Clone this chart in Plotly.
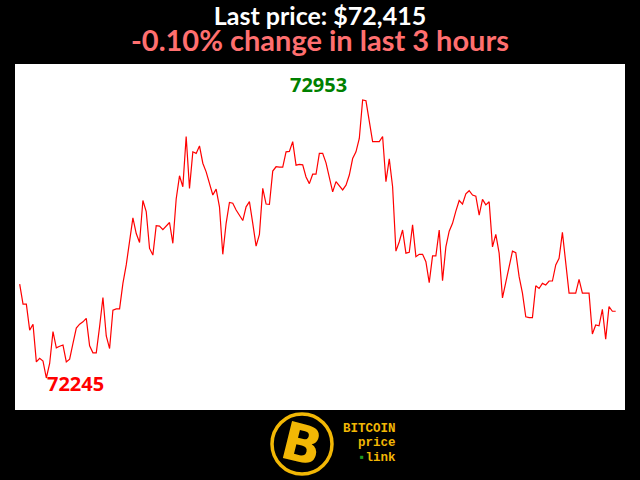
import plotly.graph_objects as go

# Bitcoin price, one point per minute over the last 3 hours
minutes = list(range(180))
prices = [
    72484, 72433, 72433, 72367, 72382, 72286, 72295, 72288, 72245, 72282,
    72363, 72322, 72326, 72329, 72286, 72293, 72333, 72372, 72382, 72388,
    72397, 72327, 72309, 72309, 72376, 72450, 72352, 72320, 72418, 72421,
    72421, 72486, 72533, 72588, 72653, 72613, 72590, 72697, 72669, 72575,
    72558, 72633, 72632, 72623, 72631, 72641, 72588, 72701, 72760, 72732,
    72860, 72728, 72821, 72817, 72836, 72792, 72770, 72741, 72711, 72726,
    72681, 72560, 72639, 72692, 72690, 72673, 72660, 72646, 72681, 72694,
    72639, 72581, 72611, 72728, 72688, 72687, 72772, 72783, 72782, 72782,
    72821, 72822, 72847, 72787, 72789, 72788, 72757, 72740, 72764, 72764,
    72817, 72817, 72793, 72759, 72719, 72745, 72734, 72724, 72736, 72762,
    72804, 72821, 72855, 72953, 72951, 72902, 72847, 72847, 72847, 72860,
    72745, 72803, 72732, 72568, 72592, 72622, 72563, 72565, 72635, 72554,
    72560, 72560, 72541, 72488, 72556, 72556, 72622, 72493, 72579, 72619,
    72639, 72670, 72697, 72688, 72714, 72722, 72711, 72708, 72660, 72700,
    72686, 72694, 72579, 72611, 72563, 72449, 72490, 72528, 72568, 72564,
    72503, 72461, 72401, 72399, 72399, 72480, 72473, 72486, 72482, 72492,
    72492, 72533, 72550, 72616, 72546, 72461, 72461, 72461, 72496, 72461,
    72461, 72461, 72357, 72380, 72378, 72420, 72344, 72427, 72415, 72415,
]

last_price = prices[-1]
change_pct = (prices[-1] - prices[0]) / prices[0] * 100
hi = max(prices)
lo = min(prices)
i_hi = prices.index(hi)
i_lo = prices.index(lo)

gold = "#f2b705"

fig = go.Figure()
fig.add_trace(go.Scatter(x=minutes, y=prices, mode="lines",
                         line=dict(color="#ff0000", width=1.2),
                         hoverinfo="skip"))

# high / low labels
fig.add_annotation(x=i_hi, y=hi, text="<b>%d</b>" % hi, showarrow=False,
                   xshift=-44, yshift=16, yanchor="middle",
                   font=dict(family="Open Sans", size=20, color="#008000"))
fig.add_annotation(x=i_lo, y=lo, text="<b>%d</b>" % lo, showarrow=False,
                   xanchor="left", yanchor="middle", xshift=-1, yshift=-5,
                   font=dict(family="Open Sans", size=20, color="#ff0000"))

# headline: two lines in one text, line pitch = 1.3 x base size
headline = ("<b><span style='font-size:25px'>Last price: $%s</span></b><br>"
            "<b><span style='font-size:29px;color:#ff6f6f'>%.2f%% change in last 3 hours</span></b>"
            % (format(last_price, ","), change_pct))
fig.add_annotation(xref="paper", yref="paper", x=0.5, y=1.1012, yanchor="middle",
                   text=headline, showarrow=False,
                   font=dict(family="Lato", size=20, color="white"))

# logo
fig.add_shape(type="circle", xref="paper", yref="paper",
              xsizemode="pixel", ysizemode="pixel", xanchor=0.4705, yanchor=-0.0983,
              x0=-30, x1=30, y0=-30, y1=30, line=dict(color=gold, width=3.5))
fig.add_annotation(xref="paper", yref="paper", x=0.4705, y=-0.0983,
                   xanchor="center", yanchor="middle",
                   text="<b>B</b>", showarrow=False, textangle=14,
                   font=dict(family="DejaVu Sans", size=52, color=gold))
for txt, yy in [("BITCOIN", -0.0535), ("price", -0.0954),
                ("<span style='color:#1f9a1f'>\u25aa</span>link", -0.1373)]:
    fig.add_annotation(xref="paper", yref="paper", x=0.6279, y=yy,
                       xanchor="right", yanchor="middle",
                       text="<b>%s</b>" % txt, showarrow=False,
                       font=dict(family="Liberation Mono", size=12.5, color=gold))

fig.update_xaxes(visible=False, range=[-1.41, 181.8])
fig.update_yaxes(visible=False, range=[72163.5, 73044.7])
fig.update_layout(width=640, height=480, showlegend=False,
                  paper_bgcolor="black", plot_bgcolor="white",
                  margin=dict(l=15, r=15, t=64, b=70))

fig.write_html("out.html", config={"displayModeBar": False},
               post_script="document.body.style.margin='0';")
